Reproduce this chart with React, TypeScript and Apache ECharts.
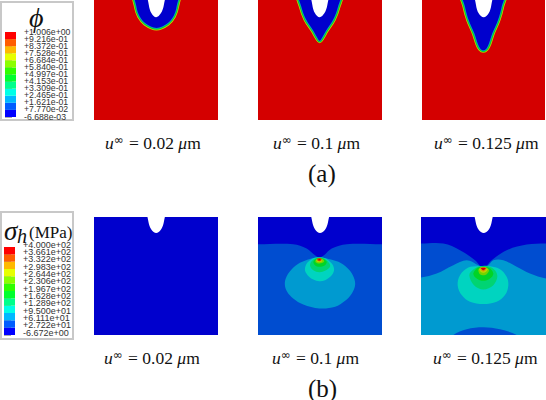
import React, { useEffect, useRef } from "react";
import * as echarts from "echarts";

type P = number[][];
type Layer = { color: string; pts: P; strokes?: [string, number][] };

const spectrum = ["#0000ff", "#005dff", "#00b9ff", "#00ffe7", "#00ff8b", "#00ff2e", "#2eff00", "#8bff00", "#e7ff00", "#ffb900", "#ff5d00", "#ff0000"];
const phiLabels = ["+1.006e+00", "+9.216e-01", "+8.372e-01", "+7.528e-01", "+6.684e-01", "+5.840e-01", "+4.997e-01", "+4.153e-01", "+3.309e-01", "+2.465e-01", "+1.621e-01", "+7.770e-02", "-6.688e-03"];
const sigmaLabels = ["+4.000e+02", "+3.661e+02", "+3.322e+02", "+2.983e+02", "+2.644e+02", "+2.306e+02", "+1.967e+02", "+1.628e+02", "+1.289e+02", "+9.500e+01", "+6.111e+01", "+2.722e+01", "-6.672e+00"];
const captionValues = ["0.02", "0.1", "0.125"];

const RED = "#d40000", DARK = "#0000cd", MED = "#004dd0", LIGHT = "#009ad0", TEAL = "#00d4c0", MINT = "#00d473", GREEN = "#00d426", LIME = "#73d400", YEL = "#c0d400", ORG = "#d49a00", ORD = "#d44d00";
const RIM: [string, number][] = [[YEL, 5], [GREEN, 3.6], ["#00a0c8", 1.6]];

const phiFront1: P = [[137, -20], [139, 20], [148, 48], [166, 70], [199, 84], [232, 70], [250, 48], [259, 20], [261, -20]];
const phiFront2: P = [[627, -20], [633, 20], [647, 58], [669, 92], [681, 113], [688, 122], [695, 113], [707, 92], [729, 58], [743, 20], [749, -20]];
const phiFront3: P = [[159, -20], [165, 20], [176, 60], [193, 100], [204, 133], [211, 146], [220, 151], [229, 146], [236, 133], [247, 100], [264, 60], [275, 20], [281, -20]];
const notchA1: P = [[175, -20], [176, 15], [184, 40], [198, 52], [212, 40], [221, 15], [222, -20]];
const notchA2: P = [[665, -20], [666, 15], [674, 40], [688, 52], [702, 40], [711, 15], [712, -20]];
const notchA3: P = [[197, -20], [198, 15], [206, 40], [221, 52], [236, 40], [244, 15], [245, -20]];
const notchB1: P = [[174, 0], [175, 35], [184, 58], [198, 68], [212, 58], [221, 35], [222, 0]];
const notchB2: P = [[186, 0], [187, 35], [196, 58], [210, 68], [225, 58], [234, 35], [235, 0]];
const notchB3: P = [[196, 0], [197, 35], [206, 58], [221, 68], [236, 58], [245, 35], [246, 0]];
const fullB: P = [[0, 0], [500, 0], [500, 400], [0, 400]];
const fullA: P = [[-100, -100], [1000, -100], [1000, 500], [-100, 500]];

const b2Med: P = [[-40, 102], [25, 102], [130, 102], [170, 115], [195, 135], [208, 142], [222, 135], [245, 115], [290, 102], [395, 102], [460, 102], [460, 460], [-40, 460]];
const b2Light: P = [[208, 142], [180, 146], [150, 158], [125, 178], [110, 200], [105, 222], [112, 245], [130, 265], [160, 283], [208, 295], [255, 290], [285, 272], [305, 250], [315, 222], [308, 195], [290, 172], [265, 155], [235, 146]];
const b2Teal: P = [[165, 178], [172, 158], [190, 144], [208, 141], [225, 144], [245, 160], [252, 178], [245, 195], [225, 210], [208, 213], [190, 208], [173, 195]];
const b2Mint: P = [[180, 165], [190, 148], [208, 142], [225, 146], [238, 160], [240, 170], [225, 182], [208, 186], [190, 180]];
const b2Green: P = [[190, 155], [198, 146], [208, 143], [220, 146], [230, 155], [225, 165], [208, 170], [195, 165]];
const b2Lime: P = [[197, 150], [208, 144], [220, 148], [222, 155], [208, 160], [197, 156]];
const b2Yel: P = [[200, 148], [216, 148], [216, 153], [208, 156], [200, 153]];
const b2Org: P = [[202, 145], [214, 145], [214, 150], [208, 153], [202, 150]];
const b2Red: P = [[205, 146], [212, 146], [208, 150]];

const b3Med: P = [[-40, 100], [33, 100], [100, 100], [150, 120], [195, 150], [213, 170], [220, 172], [227, 170], [245, 150], [290, 120], [350, 103], [408, 100], [470, 100], [470, 460], [-40, 460]];
const b3Light: P = [[-40, 210], [33, 202], [80, 190], [130, 165], [170, 150], [205, 165], [220, 172], [235, 165], [250, 150], [280, 150], [320, 170], [360, 190], [408, 205], [470, 210], [470, 460], [-40, 460]];
const b3Hump: P = [[120, 390], [130, 375], [170, 358], [220, 352], [270, 358], [320, 375], [330, 390]];
const b3Teal: P = [[143, 225], [150, 195], [175, 172], [205, 168], [240, 168], [270, 177], [290, 200], [295, 225], [285, 255], [260, 275], [220, 282], [180, 275], [155, 255]];
const b3Mint: P = [[178, 195], [190, 178], [210, 168], [235, 168], [255, 180], [262, 200], [250, 225], [220, 238], [192, 225]];
const b3Green: P = [[190, 190], [205, 172], [235, 172], [250, 190], [240, 205], [220, 212], [200, 205]];
const b3Lime: P = [[205, 180], [212, 172], [228, 172], [237, 180], [230, 192], [220, 195], [210, 192]];
const b3Yel: P = [[208, 176], [233, 176], [228, 185], [220, 188], [212, 185]];
const b3Org: P = [[210, 173], [230, 173], [226, 181], [220, 184], [214, 181]];
const b3Red: P = [[213, 174], [227, 174], [220, 180]];

const panels = [
  { rect: [94, 0, 124, 120], x: [12, 383], y: [0, 360], layers: [{ color: RED, pts: fullA }, { color: DARK, pts: phiFront1, strokes: RIM }, { color: "#fff", pts: notchA1 }] },
  { rect: [258, 0, 124, 120], x: [503, 875], y: [0, 360], layers: [{ color: RED, pts: fullA }, { color: DARK, pts: phiFront2, strokes: RIM }, { color: "#fff", pts: notchA2 }] },
  { rect: [422, 0, 123, 120], x: [36, 405], y: [0, 360], layers: [{ color: RED, pts: fullA }, { color: DARK, pts: phiFront3, strokes: RIM }, { color: "#fff", pts: notchA3 }] },
  { rect: [94, 217, 124, 118], x: [12, 383], y: [20, 375], layers: [{ color: DARK, pts: fullB }, { color: "#fff", pts: notchB1 }] },
  { rect: [258, 217, 124, 118], x: [25, 395], y: [20, 375], layers: [{ color: DARK, pts: fullB }, { color: MED, pts: b2Med }, { color: LIGHT, pts: b2Light }, { color: TEAL, pts: b2Teal }, { color: MINT, pts: b2Mint }, { color: GREEN, pts: b2Green }, { color: LIME, pts: b2Lime }, { color: YEL, pts: b2Yel }, { color: ORD, pts: b2Org }, { color: RED, pts: b2Red }, { color: "#fff", pts: notchB2 }] },
  { rect: [421, 217, 125, 118], x: [33, 408], y: [20, 375], layers: [{ color: DARK, pts: fullB }, { color: MED, pts: b3Med }, { color: LIGHT, pts: b3Light }, { color: MED, pts: b3Hump }, { color: TEAL, pts: b3Teal }, { color: MINT, pts: b3Mint }, { color: GREEN, pts: b3Green }, { color: LIME, pts: b3Lime }, { color: YEL, pts: b3Yel }, { color: ORG, pts: b3Org }, { color: RED, pts: b3Red }, { color: "#fff", pts: notchB3 }] },
] as { rect: number[]; x: number[]; y: number[]; layers: Layer[] }[];

const bars = [
  { rect: [5, 32, 11, 85], labels: phiLabels, size: 8.7, dy: -0.5, dx: 8 },
  { rect: [4, 247, 11, 88], labels: sigmaLabels, size: 9, dy: -2.3, dx: 8 },
];

const caption = (value: string, x: number, y: number) => ({
  type: "text", x, y,
  style: {
    text: `{i|u}{s|∞}{r| = ${value} }{i|μ}{r|m}`,
    verticalAlign: "middle",
    rich: {
      i: { fontFamily: "Liberation Serif", fontStyle: "italic", fontSize: 17.5, fill: "#111" },
      s: { fontFamily: "DejaVu Sans", fontSize: 12, fill: "#111", verticalAlign: "bottom", padding: [0, 1, 6, 0] },
      r: { fontFamily: "Liberation Serif", fontSize: 17.5, fill: "#111" },
    },
  },
});
const txt = (text: string, x: number, y: number, size: number, family = "Liberation Serif", style = "normal") => ({
  type: "text", x, y, style: { text, fontFamily: family, fontStyle: style, fontSize: size, fill: "#111", verticalAlign: "middle" },
});

export default function App() {
  const ref = useRef<HTMLDivElement>(null);
  useEffect(() => {
    const chart = echarts.init(ref.current!, undefined, { renderer: "svg" });
    const grid: any[] = [], xAxis: any[] = [], yAxis: any[] = [], series: any[] = [];
    panels.forEach((p, k) => {
      grid.push({ left: p.rect[0], top: p.rect[1], width: p.rect[2], height: p.rect[3] });
      xAxis.push({ type: "value", gridIndex: k, min: p.x[0], max: p.x[1], show: false });
      yAxis.push({ type: "value", gridIndex: k, min: p.y[0], max: p.y[1], inverse: true, show: false });
      series.push({
        type: "custom", xAxisIndex: k, yAxisIndex: k, clip: true, data: [[p.x[0], p.y[0]]], silent: true,
        renderItem: (_: any, api: any) => ({
          type: "group",
          children: p.layers.flatMap((l) => {
            const points = l.pts.map((q) => api.coord(q));
            const shape = { points, smooth: l.pts === fullA || l.pts === fullB ? 0 : 0.35 };
            return [
              ...(l.strokes ?? []).map(([c, w]) => ({ type: "polygon", shape, style: { fill: "none", stroke: c, lineWidth: w } })),
              { type: "polygon", shape, style: { fill: l.color } },
            ];
          }),
        }),
      });
    });
    bars.forEach((b, j) => {
      const k = panels.length + j;
      grid.push({ left: b.rect[0], top: b.rect[1], width: b.rect[2], height: b.rect[3] });
      xAxis.push({ type: "value", gridIndex: k, min: 0, max: 1, show: false });
      yAxis.push({
        type: "value", gridIndex: k, min: 0, max: 12, interval: 1, position: "right",
        axisLine: { show: false }, splitLine: { show: false },
        axisTick: { show: true, length: 7, lineStyle: { color: "#aaa", width: 1 } },
        axisLabel: { show: false },
      });
      series.push({
        type: "custom", xAxisIndex: k, yAxisIndex: k, silent: true,
        data: spectrum.map((_, i) => [0, i]),
        renderItem: (_: any, api: any) => {
          const i = api.value(1);
          const a = api.coord([0, i + 1]), c = api.coord([1, i]);
          return { type: "rect", shape: { x: a[0], y: a[1], width: c[0] - a[0], height: c[1] - a[1] }, style: { fill: spectrum[i] } };
        },
      });
      series.push({
        type: "custom", xAxisIndex: k, yAxisIndex: k, silent: true, clip: false,
        data: b.labels.map((_, i) => [1, 12 - i]),
        renderItem: (_: any, api: any) => {
          const v = api.value(1);
          const c = api.coord([1, v]);
          return { type: "text", x: c[0] + b.dx, y: c[1] + b.dy, style: { text: b.labels[12 - v], fontFamily: "Liberation Sans", fontSize: b.size, fill: "#333", verticalAlign: "middle", align: "left" } };
        },
      });
    });
    chart.setOption({
      animation: false,
      backgroundColor: "#fff",
      grid, xAxis, yAxis, series,
      graphic: [
        { type: "rect", z: -1, shape: { x: 1, y: 2, width: 72, height: 118 }, style: { fill: "#fff", stroke: "#c8c8c8", lineWidth: 2 } },
        { type: "rect", z: -1, shape: { x: 1, y: 212, width: 72, height: 127 }, style: { fill: "#fff", stroke: "#c8c8c8", lineWidth: 2 } },
        txt("ϕ", 29, 17, 28, "Liberation Serif", "italic"),
        txt("σ", 4, 231, 27, "Liberation Serif", "italic"),
        txt("h", 17, 236, 20, "Liberation Serif", "italic"),
        txt("(MPa)", 29, 232, 17),
        caption(captionValues[0], 105, 143), caption(captionValues[1], 273, 143), caption(captionValues[2], 434, 143),
        txt("(a)", 308, 173, 25),
        caption(captionValues[0], 104, 358), caption(captionValues[1], 272, 358), caption(captionValues[2], 433, 358),
        txt("(b)", 308, 388, 25),
      ],
    });
    return () => chart.dispose();
  }, []);
  return <div ref={ref} style={{ position: "fixed", left: 0, top: 0, width: 546, height: 400 }} />;
}
